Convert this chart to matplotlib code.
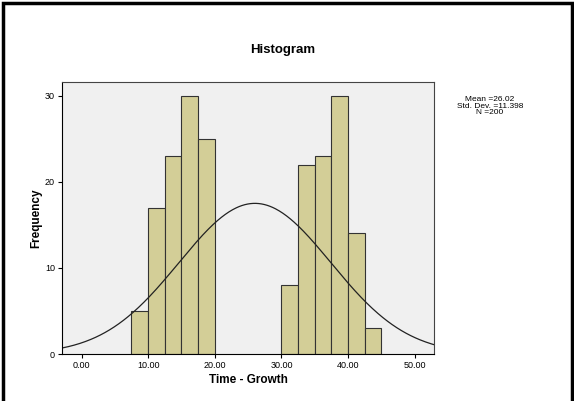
import numpy as np
import matplotlib
matplotlib.use("Agg")
import matplotlib.pyplot as plt
from matplotlib.patches import Rectangle

bin_left = [7.5, 10.0, 12.5, 15.0, 17.5, 30.0, 32.5, 35.0, 37.5, 40.0, 42.5]
counts = [5, 17, 23, 30, 25, 8, 22, 23, 30, 14, 3]
bin_width = 2.5
mean, sd, n = 26.02, 11.398, 200
xticks = [0, 10, 20, 30, 40, 50]
yticks = [0, 10, 20, 30]

W, H = 574, 401
x0, x1 = -2.93, 52.9
fig = plt.figure(figsize=(W/100, H/100), dpi=100)
fig.patch.set_facecolor("white")
fig.patches.append(Rectangle((3/W, -0.01), (569/W), 1.01 - 3/H, transform=fig.transFigure,
                             fill=False, edgecolor="black", linewidth=2.5))
ax = fig.add_axes([62/W, 1-354/H, (434-62)/W, (354-82)/H])
ax.set_facecolor("#f0f0f0")
ax.bar(bin_left, counts, width=bin_width, align="edge", color="#d3ce97",
       edgecolor="#333333", linewidth=0.8)
xs = np.linspace(x0, x1, 400)
ys = n*bin_width/(sd*np.sqrt(2*np.pi))*np.exp(-0.5*((xs-mean)/sd)**2)
ax.plot(xs, ys, color="#222222", linewidth=0.9)
ax.set_xlim(x0, x1)
ax.set_ylim(0, 31.6)
ax.set_xticks(xticks)
ax.set_xticklabels([f"{v:.2f}" for v in xticks], fontsize=6.5, family="Liberation Sans")
ax.set_yticks(yticks)
ax.set_yticklabels([str(v) for v in yticks], fontsize=6.5, family="Liberation Sans")
ax.tick_params(length=3, width=0.8, pad=2)
for s in ax.spines.values():
    s.set_linewidth(0.8)
    s.set_color("#444444")
ax.spines["left"].set_color("black")
ax.spines["bottom"].set_color("black")
ax.set_xlabel("Time - Growth", fontsize=8.5, fontweight="bold", family="Liberation Sans", labelpad=3)
ax.set_ylabel("Frequency", fontsize=8.5, fontweight="bold", family="Liberation Sans", labelpad=2)
fig.text(283/W, 1-50/H, "Histogram", ha="center", va="center", fontsize=9.5,
         fontweight="bold", family="Liberation Sans")
fig.text(490/W, 1-106/H, f"Mean ={mean}\nStd. Dev. ={sd}\nN ={n}", ha="center", va="center",
         fontsize=6, family="Liberation Sans", linespacing=0.85)
fig.savefig("out.png", dpi=100)
